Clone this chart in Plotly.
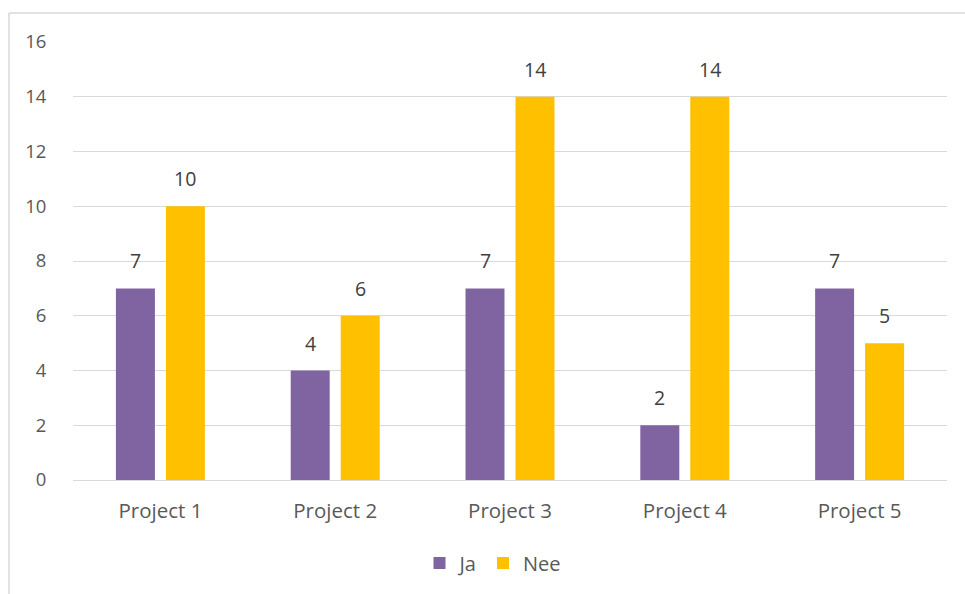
import plotly.graph_objects as go

categories = ["Project 1", "Project 2", "Project 3", "Project 4", "Project 5"]
ja = [7, 4, 7, 2, 7]
nee = [10, 6, 14, 14, 5]
y_ticks = [0, 2, 4, 6, 8, 10, 12, 14, 16]

PURPLE = "#8064a2"
YELLOW = "#ffc000"
GRID = "#d9d9d9"
TEXT = "#595959"
FONT = "Open Sans"

W, H = 965, 594
ML, MR, MT, MB = 73, 18, 42, 114
PW, PH = W - ML - MR, H - MT - MB

fig = go.Figure()
fig.add_bar(name="Ja", x=categories, y=ja, marker_color=PURPLE, marker_line_width=0)
fig.add_bar(name="Nee", x=categories, y=nee, marker_color=YELLOW, marker_line_width=0)

# value labels above each bar
for series, shift in ((ja, -25), (nee, 25)):
    for cat, val in zip(categories, series):
        fig.add_annotation(x=cat, y=val, text=str(val), showarrow=False,
                           xshift=shift, yshift=12, yanchor="bottom",
                           font=dict(family=FONT, size=19.5, color="#404040"))

# outer chart frame (left and top edges)
def px_x(p):
    return (p - ML) / PW

def px_y(p):
    return (H - MB - p) / PH

line = dict(color=GRID, width=1.5)
fig.add_shape(type="line", xref="paper", yref="paper", x0=px_x(9), x1=px_x(9),
              y0=px_y(600), y1=px_y(13), line=line)
fig.add_shape(type="line", xref="paper", yref="paper", x0=px_x(9), x1=px_x(966),
              y0=px_y(13), y1=px_y(13), line=line)

fig.update_layout(
    width=W, height=H,
    margin=dict(l=ML, r=MR, t=MT, b=MB, pad=0),
    paper_bgcolor="white", plot_bgcolor="white",
    barmode="group", bargap=0.428, bargroupgap=0.22,
    font=dict(family=FONT, size=19, color=TEXT),
    showlegend=True,
    legend=dict(orientation="h", x=px_x(493), xanchor="center", y=px_y(563), yanchor="middle",
                font=dict(family=FONT, size=20, color=TEXT), itemwidth=30,
                traceorder="normal"),
    xaxis=dict(showgrid=False, showline=False, zeroline=False,
               ticks="outside", ticklen=12, tickcolor="rgba(0,0,0,0)",
               tickfont=dict(family=FONT, size=20.5, color=TEXT)),
    yaxis=dict(range=[0, 16], tickvals=y_ticks, showgrid=True, gridcolor=GRID, gridwidth=1.3,
               zeroline=True, zerolinecolor=GRID, zerolinewidth=1.3, showline=False,
               ticks="outside", ticklen=22, tickcolor="rgba(0,0,0,0)",
               tickfont=dict(family=FONT, size=18.5, color=TEXT)),
)

fig.write_html("out.html")
